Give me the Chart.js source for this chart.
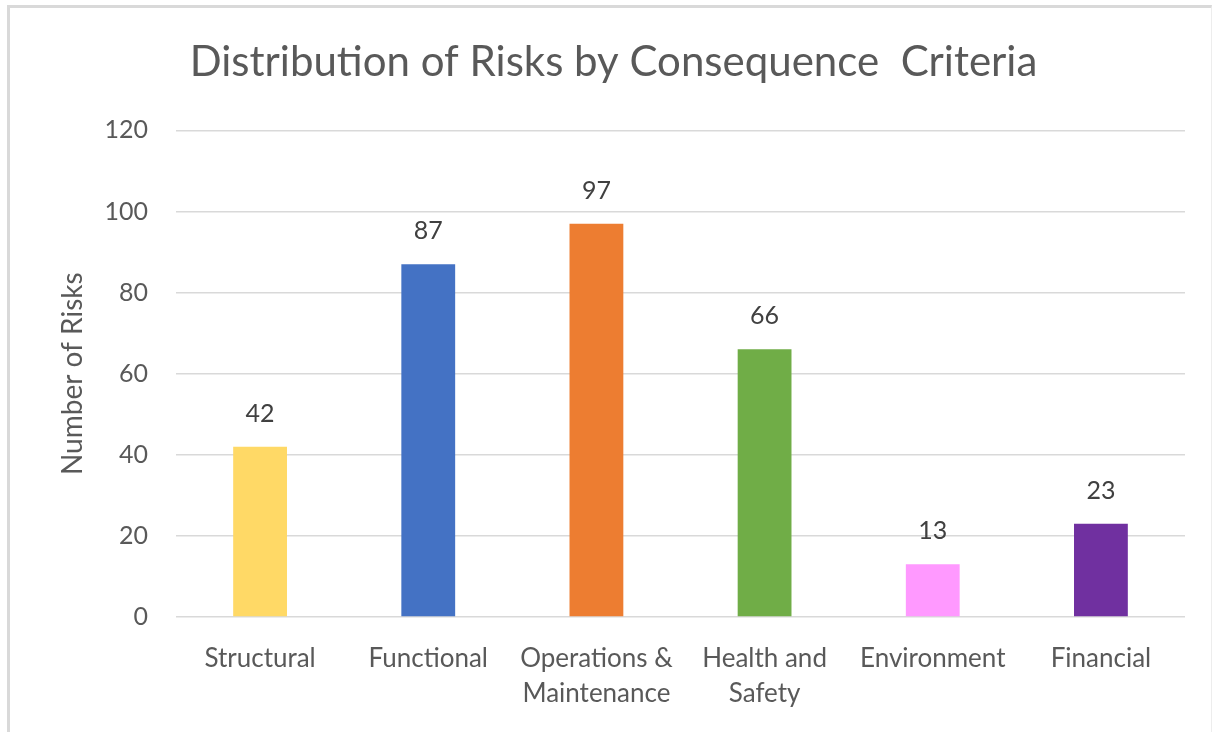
<!DOCTYPE html>
<html>
<head>
<meta charset="utf-8">
<title>Distribution of Risks by Consequence Criteria</title>
<script src="https://cdn.jsdelivr.net/npm/chart.js@4.4.0/dist/chart.umd.min.js"></script>
<style>
    html, body { margin: 0; padding: 0; background: #FFFFFF; overflow: hidden; }
    #wrap { position: absolute; left: 0; top: 0; width: 1215px; height: 732px; }
    #frame {
        position: absolute; left: 7px; top: 5px; width: 1201px; height: 740px;
        border-left: 3px solid #D9D9D9; border-top: 3px solid #D9D9D9;
        border-right: 1px solid #EDEDED; pointer-events: none;
    }
</style>
</head>
<body>
<div id="wrap"><canvas id="riskChart" width="1215" height="732"></canvas></div>
<div id="frame"></div>
<script>
// Chart data
const categories = ['Structural', 'Functional', ['Operations &', 'Maintenance'], ['Health and', 'Safety'], 'Environment', 'Financial'];
const riskCounts = [42, 87, 97, 66, 13, 23];
const barColors = ['#FFD966', '#4472C4', '#ED7D31', '#70AD47', '#FF99FF', '#7030A0'];
const yTicks = [0, 20, 40, 60, 80, 100, 120];

const fontFamily = "Lato, 'Open Sans', sans-serif";
const textColor = '#595959';

// Value labels above each bar
const valueLabels = {
    id: 'valueLabels',
    afterDatasetsDraw(chart) {
        const ctx = chart.ctx;
        const meta = chart.getDatasetMeta(0);
        ctx.save();
        ctx.font = '25px ' + fontFamily;
        ctx.fillStyle = '#404040';
        ctx.textAlign = 'center';
        ctx.textBaseline = 'middle';
        meta.data.forEach((bar, i) => {
            ctx.fillText(String(riskCounts[i]), bar.x, bar.y - 33);
        });
        ctx.restore();
    }
};

new Chart(document.getElementById('riskChart'), {
    type: 'bar',
    data: {
        labels: categories,
        datasets: [{
            label: 'Number of Risks',
            data: riskCounts,
            backgroundColor: barColors,
            borderWidth: 0,
            categoryPercentage: 1,
            barPercentage: 0.32
        }]
    },
    options: {
        responsive: false,
        animation: false,
        layout: { padding: { left: 42, right: 30, top: 0, bottom: 0 } },
        plugins: {
            legend: { display: false },
            tooltip: { enabled: false },
            title: {
                display: true,
                text: 'Distribution of Risks by Consequence  Criteria',
                color: textColor,
                font: { family: fontFamily, size: 42, weight: 'normal' },
                padding: { top: 37, bottom: 43 }
            }
        },
        scales: {
            x: {
                grid: { display: false },
                border: { display: false },
                ticks: {
                    color: textColor,
                    font: { family: fontFamily, size: 26, lineHeight: 1.35 },
                    padding: 16,
                    maxRotation: 0,
                    autoSkip: false
                },
                afterFit: (scale) => { scale.height = 115; }
            },
            y: {
                min: 0,
                max: 120,
                afterBuildTicks: (scale) => { scale.ticks = yTicks.map(v => ({ value: v })); },
                grid: { color: '#D9D9D9', lineWidth: 1.5, drawTicks: false },
                border: { display: false },
                ticks: {
                    color: textColor,
                    font: { family: fontFamily, size: 25 },
                    padding: 28
                },
                title: {
                    display: true,
                    text: 'Number of Risks',
                    color: textColor,
                    font: { family: fontFamily, size: 28 },
                    padding: { top: 14, bottom: 0 }
                },
                afterFit: (scale) => { scale.width = 134; }
            }
        }
    },
    plugins: [valueLabels]
});
</script>
</body>
</html>
